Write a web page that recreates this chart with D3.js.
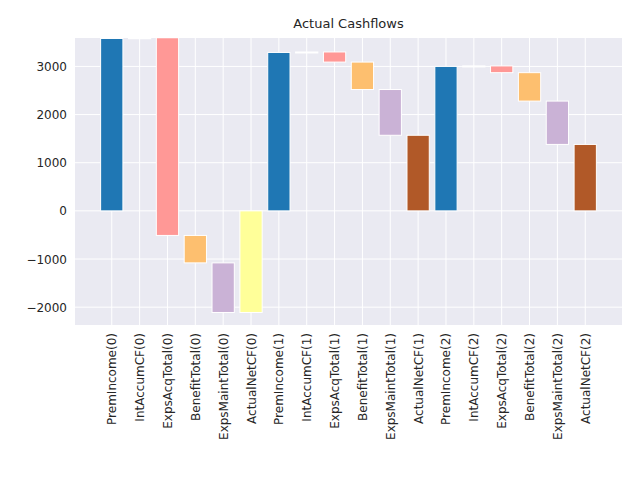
<!DOCTYPE html><html><head><script src="https://cdn.jsdelivr.net/npm/d3@7"></script>
<style>body{margin:0;background:#fff}</style></head><body><svg id="c" width="640" height="480"></svg>
<script>
const categories=["PremIncome(0)","IntAccumCF(0)","ExpsAcqTotal(0)","BenefitTotal(0)","ExpsMaintTotal(0)","ActualNetCF(0)","PremIncome(1)","IntAccumCF(1)","ExpsAcqTotal(1)","BenefitTotal(1)","ExpsMaintTotal(1)","ActualNetCF(1)","PremIncome(2)","IntAccumCF(2)","ExpsAcqTotal(2)","BenefitTotal(2)","ExpsMaintTotal(2)","ActualNetCF(2)"];
const changes=[3580,15,-4105,-570,-1030,null,3290,10,-210,-570,-950,null,3000,10,-140,-590,-900,null];
const yTicks=[-2000,-1000,0,1000,2000,3000];
const palette=["#1f77b4","#ffffff","#ff9896","#fdbf6f","#cab2d6","#ffff99","#b15928"];
const colorIdx=[0,1,2,3,4,5,0,1,2,3,4,6,0,1,2,3,4,6];
const svg=d3.select("#c");
const L=75,R=622,T=38,B=325;
const x=d3.scaleLinear().domain([-1.32,categories.length-1+1.32]).range([L,R]);
const y=d3.scaleLinear().domain([-2370,3590]).range([B,T]);
svg.append("rect").attr("x",L).attr("y",T).attr("width",R-L).attr("height",B-T).attr("fill","#eaeaf2");
const cp=svg.append("clipPath").attr("id","cp").append("rect").attr("x",L).attr("y",T).attr("width",R-L).attr("height",B-T);
yTicks.forEach(t=>svg.append("line").attr("x1",L).attr("x2",R).attr("y1",y(t)).attr("y2",y(t)).attr("stroke","#fff").attr("stroke-width",1));
categories.forEach((c,i)=>svg.append("line").attr("y1",T).attr("y2",B).attr("x1",x(i)).attr("x2",x(i)).attr("stroke","#fff"));
let cum=0;const bars=[];
changes.forEach((v,i)=>{ if(v===null){bars.push([0,cum]);cum=0;} else {bars.push([cum,cum+v]);cum+=v;} });
const g=svg.append("g").attr("clip-path","url(#cp)");
const bw=(x(1)-x(0))*0.8;
g.selectAll("rect.b").data(bars).join("rect").attr("x",(d,i)=>x(i)-bw/2).attr("width",bw)
 .attr("y",d=>y(Math.max(d[0],d[1]))).attr("height",d=>Math.max(1,Math.abs(y(d[0])-y(d[1]))))
 .attr("fill",(d,i)=>palette[colorIdx[i]]).attr("stroke","#fff").attr("stroke-width",1);
svg.selectAll("text.y").data(yTicks).join("text").attr("x",L-8).attr("y",d=>y(d)+4.5).attr("text-anchor","end")
 .attr("font-family","DejaVu Sans").attr("font-size",12).attr("fill","#262626").text(d=>d<0?"\u2212"+(-d):d);
categories.forEach((c,i)=>svg.append("text").attr("transform",`translate(${x(i)+4.5},${B+8}) rotate(-90)`).attr("text-anchor","end")
 .attr("font-family","DejaVu Sans").attr("font-size",12).attr("fill","#262626").text(c));
svg.append("text").attr("x",(L+R)/2).attr("y",28).attr("text-anchor","middle").attr("font-family","DejaVu Sans").attr("font-size",13).attr("fill","#262626").text("Actual Cashflows");
</script></body></html>
